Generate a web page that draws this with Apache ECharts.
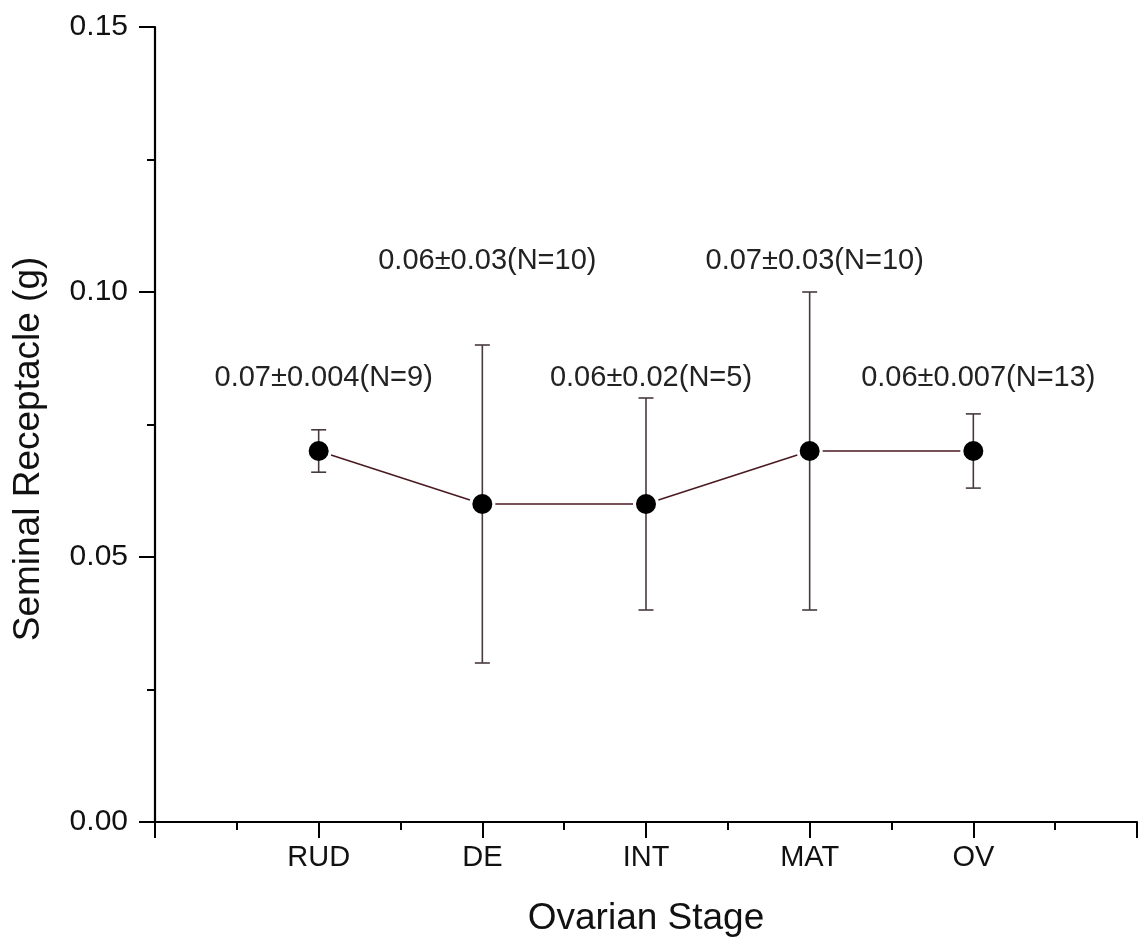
<!DOCTYPE html>
<html>
<head>
<meta charset="utf-8">
<script src="https://cdn.jsdelivr.net/npm/echarts@6/dist/echarts.min.js"></script>
<style>
html,body{margin:0;padding:0;background:#fff;}
#chart{width:1148px;height:947px;}
</style>
</head>
<body>
<div id="chart"></div>
<script>
const categories = ['RUD', 'DE', 'INT', 'MAT', 'OV'];
const means = [0.07, 0.06, 0.06, 0.07, 0.07];
const errors = [0.004, 0.03, 0.02, 0.03, 0.007];
const annotations = ['0.07\u00B10.004(N=9)', '0.06\u00B10.03(N=10)', '0.06\u00B10.02(N=5)', '0.07\u00B10.03(N=10)', '0.06\u00B10.007(N=13)'];
const yTickValues = [0, 0.05, 0.10, 0.15];

const FONT = 'Liberation Sans, Arial, sans-serif';
const pointData = categories.map((c, i) => [i + 1, means[i], errors[i]]);
const segData = [];
for (let i = 0; i < categories.length - 1; i++) {
  segData.push([i + 1, means[i], i + 2, means[i + 1]]);
}
const labelData = categories.map((c, i) => [i + 1, i]);
// annotation rows (axis units), alternating low / high
const labelRows = [0.0838, 0.1058];

const chart = echarts.init(document.getElementById('chart'), null, {renderer: 'canvas'});
const axisColor = '#000';
const option = {
  backgroundColor: '#fff',
  animation: false,
  grid: {left: 155, right: 11, top: 27, bottom: 125, containLabel: false, outerBoundsMode: 'none'},
  xAxis: {
    type: 'value', min: 0, max: categories.length + 1, interval: 1,
    axisLine: {show: true, lineStyle: {color: axisColor, width: 2.2}},
    axisTick: {show: true, length: 16, lineStyle: {color: axisColor, width: 2}},
    minorTick: {show: true, splitNumber: 2, length: 8, lineStyle: {color: axisColor, width: 2}},
    splitLine: {show: false},
    minorSplitLine: {show: false},
    axisLabel: {
      margin: 21, fontSize: 29, color: '#111', fontFamily: FONT,
      formatter: v => (categories[Math.round(v) - 1] || '')
    },
    name: 'Ovarian Stage', nameLocation: 'middle', nameGap: 78,
    nameTextStyle: {fontSize: 37, color: '#111', fontFamily: FONT}
  },
  yAxis: {
    type: 'value', min: yTickValues[0], max: yTickValues[yTickValues.length - 1], interval: 0.05,
    axisLine: {show: true, lineStyle: {color: axisColor, width: 2.2}},
    axisTick: {show: true, length: 16, lineStyle: {color: axisColor, width: 2}},
    minorTick: {show: true, splitNumber: 2, length: 8, lineStyle: {color: axisColor, width: 2}},
    splitLine: {show: false},
    minorSplitLine: {show: false},
    axisLabel: {
      margin: 27, fontSize: 30, color: '#111', fontFamily: FONT,
      formatter: v => v.toFixed(2)
    }
  },
  graphic: [{
    type: 'text', x: 29, y: 449, rotation: Math.PI / 2,
    style: {text: 'Seminal Receptacle (g)', font: '37px ' + FONT, fill: '#111', align: 'center', verticalAlign: 'middle'}
  }],
  series: [
    {
      type: 'custom', z: 2,
      data: segData,
      encode: {x: [0, 2], y: [1, 3]},
      renderItem: (params, api) => {
        const p0 = api.coord([api.value(0), api.value(1)]);
        const p1 = api.coord([api.value(2), api.value(3)]);
        const dx = p1[0] - p0[0], dy = p1[1] - p0[1];
        const len = Math.sqrt(dx * dx + dy * dy);
        const g = 13;
        const ux = dx / len, uy = dy / len;
        return {
          type: 'line',
          shape: {x1: p0[0] + ux * g, y1: p0[1] + uy * g, x2: p1[0] - ux * g, y2: p1[1] - uy * g},
          style: {stroke: '#4a1a22', lineWidth: 1.6}
        };
      }
    },
    {
      type: 'custom', z: 3,
      data: pointData,
      encode: {x: 0, y: 1},
      renderItem: (params, api) => {
        const x = api.value(0), m = api.value(1), e = api.value(2);
        const top = api.coord([x, m + e]);
        const bot = api.coord([x, m - e]);
        const c = api.coord([x, m]);
        const cw = 7.5;
        const st = {stroke: '#473a3e', lineWidth: 1.6};
        return {
          type: 'group',
          children: [
            {type: 'line', shape: {x1: top[0], y1: top[1], x2: bot[0], y2: bot[1]}, style: st},
            {type: 'line', shape: {x1: top[0] - cw, y1: top[1], x2: top[0] + cw, y2: top[1]}, style: st},
            {type: 'line', shape: {x1: bot[0] - cw, y1: bot[1], x2: bot[0] + cw, y2: bot[1]}, style: st},
            {type: 'circle', shape: {cx: c[0], cy: c[1], r: 10}, style: {fill: '#000'}}
          ]
        };
      }
    },
    {
      type: 'custom', z: 4,
      data: labelData,
      encode: {x: 0},
      renderItem: (params, api) => {
        const idx = api.value(1);
        const p = api.coord([api.value(0), labelRows[idx % 2]]);
        return {
          type: 'text', x: p[0] + 5, y: p[1],
          style: {text: annotations[idx], font: '29px ' + FONT, fill: '#222', align: 'center', verticalAlign: 'middle'}
        };
      }
    }
  ]
};
chart.setOption(option);
</script>
</body>
</html>
